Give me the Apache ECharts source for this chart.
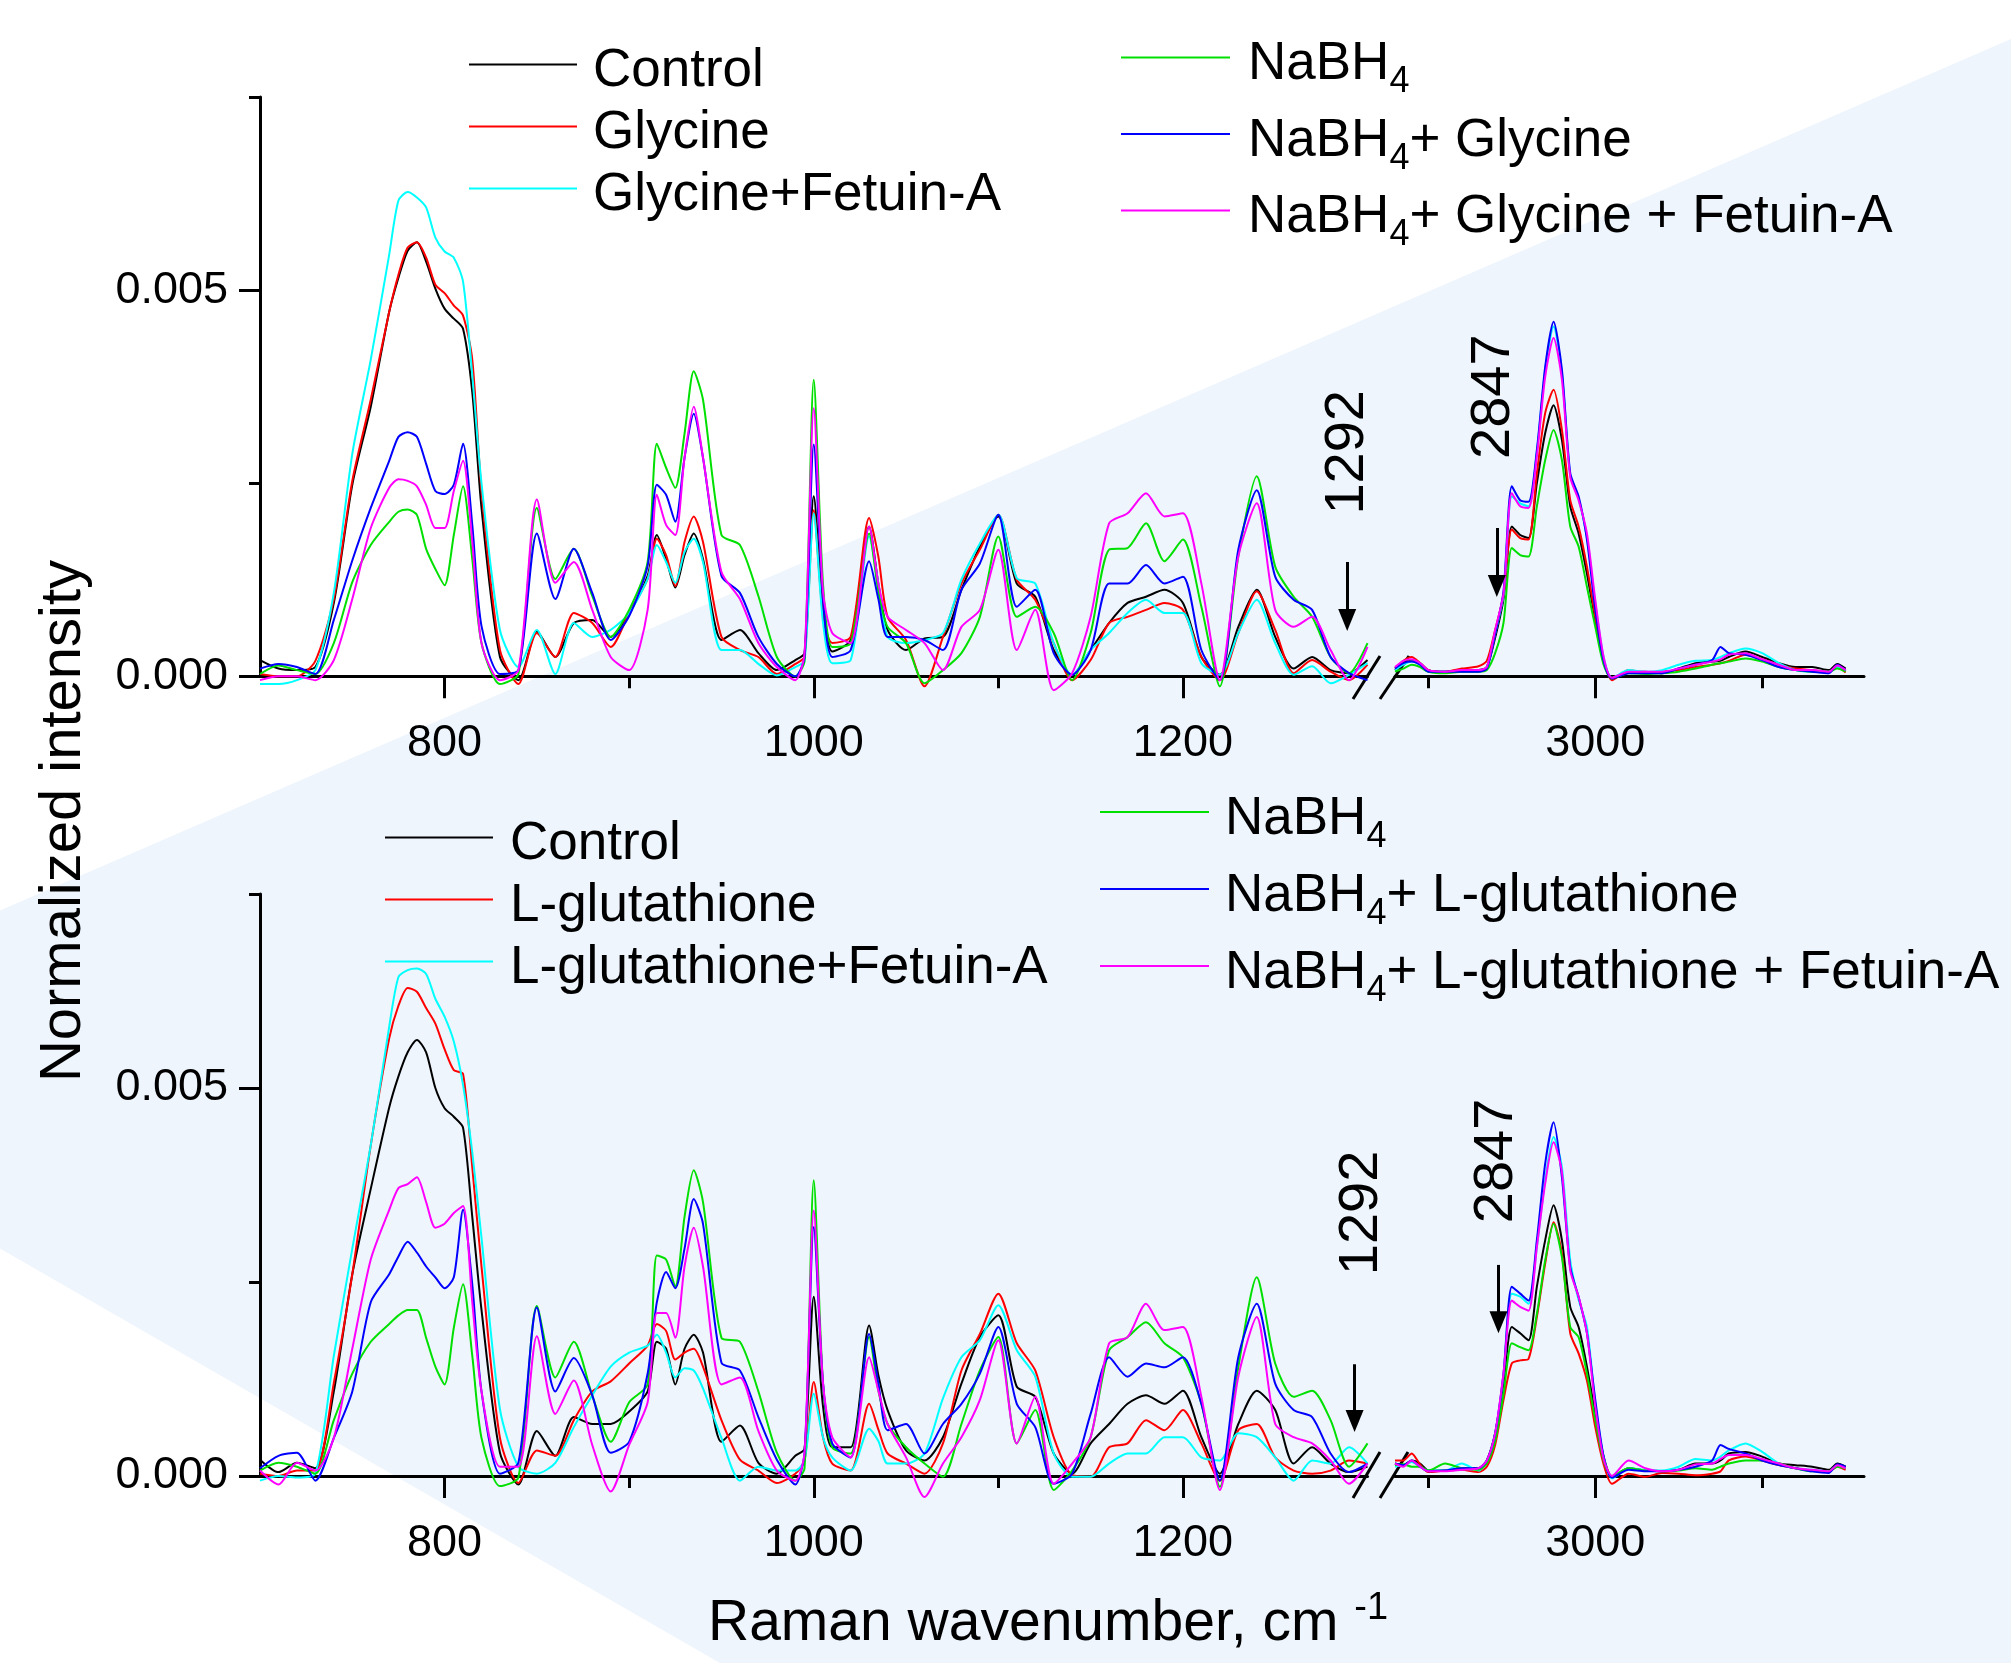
<!DOCTYPE html>
<html>
<head>
<meta charset="utf-8">
<title>Raman spectra</title>
<script src="https://cdn.jsdelivr.net/npm/echarts@6/dist/echarts.min.js"></script>
<style>
  html, body { margin: 0; padding: 0; background: #fff; }
  #chart { width: 2011px; height: 1663px; }
</style>
</head>
<body>
<div id="chart"></div>
<script>
// wavenumbers (cm-1) of the two axis segments
var leftWn = [
  700, 710, 720, 730, 740, 750, 760, 770,
  775, 780, 785, 790, 795, 800, 805, 810, 815, 820,
  830, 840, 850, 860, 870, 880, 890, 900, 910,
  915, 920, 925, 930, 935, 940,
  950, 960, 970, 980, 990,
  995, 1000, 1005,
  1010, 1020, 1030, 1035,
  1040, 1050, 1060, 1070, 1080, 1090, 1100, 1110, 1120, 1130, 1140, 1150, 1160,
  1170, 1180, 1190, 1200, 1210, 1220, 1230, 1240, 1250, 1260, 1270, 1280, 1290, 1300
];
var rightWn = [
  2880, 2885, 2890, 2895, 2900,
  2910, 2920, 2930, 2935, 2940,
  2945, 2950, 2955, 2960, 2965,
  2970, 2975, 2980, 2985, 2990,
  2995, 3000, 3005, 3010, 3020,
  3030, 3040, 3050, 3060, 3070,
  3075, 3080, 3090, 3100, 3110,
  3120, 3130, 3140, 3145, 3150
];

// ---- upper panel: glycine ----
var ctrlTopL = [
  0.00021, 0.0001, 0.00008, 0.00012, 0.00095, 0.00248, 0.00349, 0.00472,
  0.00516, 0.00551, 0.00562, 0.00537, 0.00502, 0.00476, 0.00463, 0.0045, 0.00368, 0.00218,
  0.00025, -0.00005, 0.00058, 0.00025, 0.00069, 0.00073, 0.00051, 0.00082, 0.0013,
  0.00183, 0.00152, 0.00115, 0.00157, 0.00185, 0.00152,
  0.00047, 0.0006, 0.0003, 0.00008, 0.00021,
  0.0003, 0.00233, 0.0009,
  0.00032, 0.00047, 0.00194, 0.0012,
  0.0006, 0.00034, 0.00049, 0.00051, 0.00112, 0.00168, 0.00207, 0.0012, 0.00103, 0.00034, 0.00002, 0.00034, 0.00069,
  0.00095, 0.00103, 0.00112, 0.00095, 0.00025, 0.00002, 0.00064, 0.00112, 0.00051, 0.0001, 0.00025, 0.00008, 0.00004, 0.00021
];
var glyTopL = [
  0.00003, 0, 0, 0.0002, 0.001, 0.00253, 0.00358, 0.00472,
  0.0052, 0.00555, 0.00562, 0.00542, 0.00507, 0.00496, 0.0048, 0.00467, 0.0041, 0.0024,
  0.00034, -0.0001, 0.00056, 0.00025, 0.00082, 0.00069, 0.00038, 0.00082, 0.00126,
  0.00178, 0.00157, 0.00117, 0.00174, 0.00207, 0.00174,
  0.00051, 0.00034, 0.00025, 0.00003, 0.00016,
  0.00025, 0.00215, 0.0008,
  0.00043, 0.00051, 0.00205, 0.00155,
  0.00077, 0.00047, -0.00013, 0.00051, 0.0012, 0.00164, 0.00209, 0.00125, 0.00099, 0.00043, -0.00005, 0.00021, 0.00069,
  0.00077, 0.00086, 0.00095, 0.00086, 0.00025, -0.00005, 0.00056, 0.0011, 0.0006, 0.00004, 0.00021, 0.00006, -0.00005, 0.00015
];
var glyFetTopL = [
  -0.0001, -0.0001, -0.00005, 0.00008, 0.00108, 0.00288, 0.0041, 0.00546,
  0.00616, 0.00627, 0.0062, 0.00607, 0.00568, 0.0055, 0.00542, 0.00511, 0.0039, 0.0025,
  0.0006, 0.00012, 0.0006, 0.00003, 0.00069, 0.00051, 0.0006, 0.00082, 0.00126,
  0.0017, 0.00148, 0.00121, 0.00161, 0.00178, 0.00148,
  0.00034, 0.00034, 0.00016, 0.00001, 0.00012,
  0.0002, 0.00211, 0.0007,
  0.00017, 0.00021, 0.00181, 0.0012,
  0.00051, 0.00043, 0.00047, 0.00056, 0.00125, 0.00172, 0.00209, 0.00127, 0.0012, 0.00043, 0.00002, 0.00034, 0.00056,
  0.00082, 0.00099, 0.00082, 0.00082, 0.00017, 0.00002, 0.00056, 0.00099, 0.00043, 0.00002, 0.00013, -0.00009, 0.00002, 0.00017
];
var nabTopL = [
  0.00003, 0.00014, 0.00008, 0.00003, 0.00043, 0.00122, 0.0017, 0.002,
  0.00213, 0.00216, 0.00209, 0.00165, 0.00139, 0.00118, 0.00183, 0.00246, 0.00152, 0.00043,
  -0.0001, 0.00003, 0.00218, 0.00126, 0.00165, 0.00104, 0.00051, 0.00086, 0.00148,
  0.00301, 0.0027, 0.00244, 0.00314, 0.00395, 0.00358,
  0.00183, 0.0017, 0.00104, 0.00025, 0,
  0.0002, 0.00384, 0.0012,
  0.00038, 0.00043, 0.00185, 0.0011,
  0.00064, 0.00043, -0.00009, 0.00008, 0.0003, 0.00077, 0.00181, 0.00077, 0.0009, 0.00056, -0.00005, 0.00056, 0.00164,
  0.00166, 0.00198, 0.00149, 0.00177, 0.0009, -0.00013, 0.00155, 0.00259, 0.00142, 0.00103, 0.00077, 0.00025, 0.00004, 0.00043
];
var nabGlyTopL = [
  0.0001, 0.00016, 0.00012, 0.00003, 0.00073, 0.0015, 0.00218, 0.00279,
  0.0031, 0.00316, 0.0031, 0.00275, 0.0024, 0.00236, 0.00248, 0.00301, 0.00196, 0.00065,
  0.00003, 0.00008, 0.00185, 0.001, 0.00165, 0.00108, 0.00047, 0.00078, 0.00143,
  0.00248, 0.00235, 0.002, 0.00283, 0.0034, 0.00283,
  0.0013, 0.00108, 0.00051, 0.00016, 0,
  0.00025, 0.003, 0.001,
  0.00025, 0.00034, 0.00149, 0.001,
  0.00051, 0.00051, 0.00047, 0.00034, 0.00112, 0.00146, 0.00209, 0.0009, 0.00112, 0.0003, 0.00002, 0.00034, 0.0012,
  0.0012, 0.00144, 0.0012, 0.00129, 0.00034, -0.00005, 0.00164, 0.00241, 0.00129, 0.00099, 0.00086, 0.00025, 0.00004, -0.00005
];
var nabGlyFetTopL = [
  -0.00005, 0, 0, -0.00005, 0.00021, 0.001, 0.00192, 0.00244,
  0.00255, 0.00253, 0.00246, 0.00222, 0.00192, 0.00192, 0.0024, 0.00279, 0.00174, 0.00043,
  -0.00005, 0.00008, 0.00229, 0.00121, 0.00148, 0.00086, 0.00025, 0.00008, 0.00086,
  0.00235, 0.00196, 0.00183, 0.00283, 0.00349, 0.00283,
  0.00135, 0.001, 0.00043, 0.00012, -0.00005,
  0.0003, 0.00347, 0.0011,
  0.00056, 0.00043, 0.00194, 0.0012,
  0.00077, 0.0006, 0.00043, 0.00008, 0.00064, 0.00086, 0.00164, 0.00034, 0.00086, -0.00018, 0.00004, 0.00077, 0.00198,
  0.00211, 0.00237, 0.00207, 0.00211, 0.0012, -0.00005, 0.00155, 0.00224, 0.00086, 0.00064, 0.00077, 0.00034, -0.00005, 0.00038
];

var ctrlTopR = [
  0.00008, 0.00015, 0.00021, 0.00017, 0.00008,
  0.00006, 0.00008, 0.00008, 0.00012, 0.0005,
  0.001, 0.00194, 0.00183, 0.00179, 0.0025,
  0.00315, 0.00351, 0.00306, 0.0022, 0.00185,
  0.00133, 0.00073, 0.00021, -0.00003, 0.00006,
  0.00006, 0.00004, 0.0001, 0.00017, 0.00019,
  0.0002, 0.00025, 0.00032, 0.00025, 0.00017,
  0.00012, 0.00012, 0.00008, 0.00016, 0.0001
];
var glyTopR = [
  0.0001, 0.0002, 0.00025, 0.00017, 0.00008,
  0.00006, 0.0001, 0.00013, 0.0002, 0.0006,
  0.00105, 0.0019, 0.00179, 0.00177, 0.00263,
  0.00341, 0.00371, 0.00319, 0.00228, 0.00194,
  0.00142, 0.00077, 0.0002, -0.00005, 0.00008,
  0.00004, 0.00006, 0.00008, 0.00012, 0.00015,
  0.00017, 0.0002, 0.00028, 0.00022, 0.00015,
  0.0001, 0.00008, 0.00006, 0.00012, 0.00005
];
var glyFetTopR = [
  0.00008, 0.00015, 0.00019, 0.00015, 0.00006,
  0.00006, 0.00006, 0.00006, 0.00012, 0.00055,
  0.00105, 0.00233, 0.00224, 0.0022, 0.0029,
  0.00397, 0.00453, 0.00393, 0.0026, 0.0023,
  0.0018, 0.00095, 0.00025, -0.00002, 0.00008,
  0.00006, 0.00008, 0.00015, 0.0002, 0.00021,
  0.00025, 0.0003, 0.00036, 0.0003, 0.00017,
  0.00008, 0.00006, 0.00006, 0.00012, 0.00008
];
var nabTopR = [
  0.00006, 0.0001, 0.00015, 0.00012, 0.00006,
  0.00004, 0.00006, 0.00006, 0.00008, 0.0003,
  0.00069, 0.00166, 0.00157, 0.00155, 0.0022,
  0.0028, 0.00319, 0.0028, 0.00194, 0.00168,
  0.00116, 0.00064, 0.00015, -0.00003, 0.00004,
  0.00003, 0.00004, 0.00006, 0.0001, 0.00015,
  0.00017, 0.00019, 0.00023, 0.00019, 0.00012,
  0.00008, 0.00006, 0.00006, 0.0001, 0.00006
];
var nabGlyTopR = [
  0.0001, 0.00017, 0.00019, 0.00015, 0.00006,
  0.00006, 0.00006, 0.00006, 0.0001, 0.00055,
  0.0011, 0.00246, 0.00228, 0.00226, 0.00293,
  0.00401, 0.00459, 0.00397, 0.00263, 0.00233,
  0.00177, 0.00086, 0.0002, -0.00003, 0.00004,
  0.00004, 0.00004, 0.0001, 0.00015, 0.00021,
  0.00038, 0.0003, 0.00028, 0.00021, 0.00012,
  0.00008, 0.00006, 0.00004, 0.00015, 0.00008
];
var nabGlyFetTopR = [
  0.00012, 0.0002, 0.00022, 0.00017, 0.00008,
  0.00006, 0.00008, 0.00008, 0.00012, 0.0006,
  0.00107, 0.00237, 0.0022, 0.00218, 0.00285,
  0.00388, 0.00438, 0.00384, 0.00258, 0.00228,
  0.00185, 0.00099, 0.00025, -0.00002, 0.00006,
  0.00006, 0.00006, 0.0001, 0.00015, 0.00019,
  0.00022, 0.00028, 0.0003, 0.00022, 0.00015,
  0.00008, 0.00008, 0.00006, 0.00014, 0.00008
];

// ---- lower panel: L-glutathione ----
var ctrlBotL = [
  0.00021, 0.00005, 0.00017, 0.0001, 0.00109, 0.0026, 0.0037, 0.00475,
  0.00515, 0.00546, 0.00562, 0.00546, 0.005, 0.00474, 0.00463, 0.00449, 0.00334, 0.00214,
  0.0003, -0.00011, 0.00058, 0.00026, 0.00076, 0.00067, 0.00067, 0.00083, 0.00109,
  0.00173, 0.00164, 0.00118, 0.00164, 0.00182, 0.00159,
  0.00044, 0.00065, 0.00017, 0.00003, 0.00026,
  0.00035, 0.00231, 0.0009,
  0.00037, 0.00037, 0.00194, 0.0013,
  0.00085, 0.00033, 0.0002, 0.0005, 0.00119, 0.00179, 0.00207, 0.00115, 0.00102, 0.00029, 0.00003, 0.00042, 0.00067,
  0.00093, 0.00104, 0.00093, 0.0011, 0.0005, 0.00003, 0.00067, 0.0011, 0.00085, 0.00016, 0.00037, 0.00016, 0.00005, 0.00012
];
var gshBotL = [
  0.00003, 0, 0.00007, 0.00007, 0.0012, 0.0026, 0.00426, 0.00564,
  0.00606, 0.00629, 0.00624, 0.00603, 0.00583, 0.0055, 0.00523, 0.00518, 0.00398, 0.0027,
  0.00049, -0.00009, 0.00033, 0.00026, 0.00072, 0.00109, 0.00122, 0.00145, 0.00168,
  0.00196, 0.00187, 0.0015, 0.00159, 0.00164, 0.00141,
  0.00072, 0.00021, 0.00007, -0.00009, 0.00003,
  0.0002, 0.00121, 0.0005,
  0.00016, 0.00007, 0.00093, 0.0006,
  0.00029, 0.00016, 0.00003, 0.00042, 0.00136, 0.00183, 0.00235, 0.00171, 0.00136, 0.0005, 0.00001, -0.00001, 0.00037,
  0.00042, 0.00072, 0.00059, 0.00085, 0.00042, -0.00006, 0.00059, 0.00067, 0.00024, 0.00007, 0.00003, 0.00007, 0.0002, 0.00016
];
var gshFetBotL = [
  -0.00006, 0, -0.00002, 0.00003, 0.00155, 0.00293, 0.00426, 0.00579,
  0.00643, 0.00652, 0.00654, 0.00647, 0.00615, 0.00592, 0.0056, 0.00504, 0.00417, 0.00307,
  0.00086, 0.00012, 0.00003, 0.00017, 0.00063, 0.00104, 0.00141, 0.00159, 0.00168,
  0.00182, 0.00159, 0.00127, 0.00139, 0.00136, 0.00113,
  0.00049, -0.00006, 0.00012, 0.00007, 0.00007,
  0.0002, 0.00106, 0.0005,
  0.00024, 0.00007, 0.00061, 0.00045,
  0.00016, 0.00016, 0.00029, 0.001, 0.00153, 0.00175, 0.0022, 0.00162, 0.00128, 0.00029, -0.00001, -0.00001, 0.00016,
  0.00029, 0.00029, 0.0005, 0.0005, 0.00024, 0.0002, 0.00055, 0.0005, 0.00024, -0.00006, 0.0002, 0.00016, 0.00037, 0.00016
];
var nabBotL = [
  0.00007, 0.00017, 0.00012, 0.00003, 0.00072, 0.00132, 0.00173, 0.00196,
  0.00207, 0.00214, 0.00214, 0.00178, 0.00141, 0.00118, 0.00191, 0.00247, 0.00155, 0.00049,
  -0.00013, -0.00002, 0.00219, 0.00127, 0.00173, 0.00104, 0.00044, 0.00095, 0.00118,
  0.00284, 0.00279, 0.00244, 0.00334, 0.00394, 0.00353,
  0.00178, 0.00173, 0.00109, 0.0003, -0.00006,
  0.0001, 0.00381, 0.0012,
  0.00037, 0.00029, 0.00179, 0.0011,
  0.00067, 0.00037, 0.00016, -0.00001, 0.00067, 0.00136, 0.00179, 0.00042, 0.00085, -0.00018, 0.00007, 0.0005, 0.00162,
  0.00179, 0.00198, 0.00171, 0.00153, 0.00093, -0.00014, 0.0014, 0.00256, 0.00145, 0.00102, 0.0011, 0.00072, 0.00012, 0.00042
];
var nabGshBotL = [
  0.0001, 0.00026, 0.0003, -0.00006, 0.00049, 0.00109, 0.00224, 0.0026,
  0.00283, 0.00302, 0.00288, 0.0027, 0.00256, 0.00242, 0.00256, 0.00343, 0.00247, 0.00109,
  0.00003, 0.00017, 0.00217, 0.00109, 0.00152, 0.00104, 0.0003, 0.00044, 0.00132,
  0.00224, 0.00263, 0.00242, 0.00293, 0.00357, 0.00325,
  0.00146, 0.00136, 0.00076, 0.00021, -0.00011,
  0.0003, 0.00321, 0.0012,
  0.00042, 0.00024, 0.00183, 0.0012,
  0.00059, 0.00067, 0.00029, 0.00067, 0.00093, 0.00132, 0.00192, 0.00093, 0.00063, -0.0001, 0.00003, 0.0008, 0.00153,
  0.00128, 0.00145, 0.0014, 0.00153, 0.00093, -0.00006, 0.00153, 0.00222, 0.00119, 0.00085, 0.00076, 0.00029, 0.00005, 0.00016
];
var nabGshFetBotL = [
  0.00007, -0.00011, 0.00017, 0.00007, 0.00049, 0.00164, 0.00279, 0.00343,
  0.00371, 0.00376, 0.00385, 0.00353, 0.0032, 0.00325, 0.00339, 0.00348, 0.00224, 0.00109,
  0.00012, 0.00012, 0.0018, 0.0008, 0.00123, 0.0004, -0.0002, 0.0004, 0.00095,
  0.0021, 0.0021, 0.00178, 0.0027, 0.0032, 0.0027,
  0.00118, 0.00127, 0.00058, 0.00007, -0.00006,
  0.0003, 0.00342, 0.0012,
  0.0005, 0.00024, 0.00153, 0.0011,
  0.00067, 0.00024, -0.00027, 0.00016, 0.0005, 0.00098, 0.00175, 0.00042, 0.00102, -0.0001, 0.00016, 0.0005, 0.00171,
  0.00179, 0.00222, 0.00188, 0.00192, 0.00102, -0.00018, 0.00128, 0.00205, 0.00067, 0.0005, 0.00042, 0.0002, -0.0001, 0.00016
];

var ctrlBotR = [
  0.00016, 0.00014, 0.0002, 0.00016, 0.00007,
  0.00007, 0.0001, 0.0001, 0.0002, 0.00055,
  0.0012, 0.00192, 0.00184, 0.00175, 0.00244,
  0.00304, 0.00349, 0.00304, 0.00218, 0.00192,
  0.00141, 0.0008, 0.00025, -0.00001, 0.0001,
  0.00007, 0.00006, 0.00008, 0.00016, 0.00016,
  0.0002, 0.00029, 0.00031, 0.00025, 0.00016,
  0.00014, 0.00012, 0.00008, 0.00016, 0.00012
];
var gshBotR = [
  0.0002, 0.0002, 0.00029, 0.00015, 0.00005,
  0.00007, 0.00008, 0.00005, 0.00012, 0.0004,
  0.00098, 0.00145, 0.00149, 0.00151, 0.00205,
  0.00274, 0.00327, 0.00287, 0.00184, 0.00158,
  0.00123, 0.00063, 0.00015, -0.0001, 0.00003,
  -0.00001, 0.00004, 0.00003, 0.00001, 0.00003,
  0.00006, 0.0002, 0.00025, 0.0002, 0.00014,
  0.0001, 0.00007, 0.00006, 0.00012, 0.00008
];
var gshFetBotR = [
  0.00012, 0.00014, 0.00018, 0.00012, 0.00007,
  0.00007, 0.00016, 0.00007, 0.00018, 0.00055,
  0.0013, 0.00235, 0.00231, 0.00222, 0.00295,
  0.00382, 0.00437, 0.00398, 0.00278, 0.00227,
  0.00192, 0.00094, 0.00025, -0.00003, 0.0001,
  0.00008, 0.00007, 0.00012, 0.00022, 0.0002,
  0.00025, 0.00033, 0.00042, 0.00031, 0.00016,
  0.0001, 0.00008, 0.00006, 0.00014, 0.0001
];
var nabBotR = [
  0.00014, 0.00015, 0.00012, 0.00012, 0.00007,
  0.00016, 0.0001, 0.00008, 0.00016, 0.00045,
  0.00105, 0.00171, 0.00166, 0.00162, 0.00209,
  0.00278, 0.00325, 0.00282, 0.00192, 0.00179,
  0.00132, 0.00072, 0.0002, 0, 0.0001,
  0.00007, 0.00006, 0.00007, 0.0001, 0.00008,
  0.00012, 0.00016, 0.0002, 0.0002, 0.00016,
  0.0001, 0.00006, 0.00006, 0.00012, 0.0001
];
var nabGshBotR = [
  0.00016, 0.00014, 0.0002, 0.00012, 0.00006,
  0.00007, 0.0001, 0.0001, 0.0002, 0.00055,
  0.00132, 0.00244, 0.00235, 0.00226, 0.00304,
  0.00403, 0.00456, 0.00385, 0.00269, 0.00231,
  0.00184, 0.00098, 0.00025, -0.00002, 0.00008,
  0.00006, 0.00006, 0.00008, 0.00012, 0.0002,
  0.0004, 0.00035, 0.00029, 0.0002, 0.00014,
  0.0001, 0.00006, 0.00004, 0.00015, 0.00012
];
var nabGshFetBotR = [
  0.00016, 0.00012, 0.0002, 0.00012, 0.00006,
  0.00006, 0.00008, 0.0001, 0.0002, 0.00055,
  0.00132, 0.00226, 0.00218, 0.00213, 0.00295,
  0.00377, 0.0043, 0.00392, 0.00265, 0.00231,
  0.00184, 0.00089, 0.00022, 0, 0.0002,
  0.0001, 0.00006, 0.00008, 0.00015, 0.00016,
  0.00022, 0.00027, 0.00027, 0.00022, 0.00016,
  0.0001, 0.00008, 0.00006, 0.00014, 0.0001
];

// tick positions
var leftMajor = [800, 1000, 1200];
var leftMinor = [900, 1100];
var rightMajor = [3000];
var rightMinor = [2900, 3100];
var yMajor = [0, 0.005];
var yMinor = [0.0025, 0.0075];

var namesTop = ['Control', 'Glycine', 'Glycine+Fetuin-A', 'NaBH4', 'NaBH4+ Glycine', 'NaBH4+ Glycine + Fetuin-A'];
var namesBot = ['Control', 'L-glutathione', 'L-glutathione+Fetuin-A', 'NaBH4', 'NaBH4+ L-glutathione', 'NaBH4+ L-glutathione + Fetuin-A'];
var colors = ['#000000', '#ff0000', '#00ffff', '#00e000', '#0000ff', '#ff00ff'];

var FONT = 'Liberation Sans';
var BLACK = '#000';

function pairs(xs, ys) {
  return xs.map(function (x, i) { return [x, ys[i]]; });
}

function mainX(grid, min, max, majors) {
  return {
    type: 'value', gridIndex: grid, min: min, max: max, position: 'bottom',
    axisLine: { show: true, onZero: false, lineStyle: { color: BLACK, width: 3 } },
    axisTick: { show: true, customValues: majors, length: 22, lineStyle: { color: BLACK, width: 3 } },
    axisLabel: {
      show: true, customValues: majors, margin: 45, fontSize: 45, fontFamily: FONT, color: BLACK,
      formatter: function (v) { return String(v); }
    },
    splitLine: { show: false }
  };
}
function minorX(grid, min, max, minors) {
  return {
    type: 'value', gridIndex: grid, min: min, max: max, position: 'bottom',
    axisLine: { show: false },
    axisTick: { show: true, customValues: minors, length: 12, lineStyle: { color: BLACK, width: 3 } },
    axisLabel: { show: false },
    splitLine: { show: false }
  };
}
function mainY(grid) {
  return {
    type: 'value', gridIndex: grid, min: 0, max: 0.0075, position: 'left',
    axisLine: { show: true, onZero: false, lineStyle: { color: BLACK, width: 3 } },
    axisTick: { show: true, customValues: yMajor, length: 21, lineStyle: { color: BLACK, width: 3 } },
    axisLabel: {
      show: true, customValues: yMajor, margin: 32, fontSize: 45, fontFamily: FONT, color: BLACK,
      formatter: function (v) { return v.toFixed(3); }
    },
    splitLine: { show: false }
  };
}
function minorY(grid) {
  return {
    type: 'value', gridIndex: grid, min: 0, max: 0.0075, position: 'left',
    axisLine: { show: false },
    axisTick: { show: true, customValues: yMinor, length: 11, lineStyle: { color: BLACK, width: 3 } },
    axisLabel: { show: false },
    splitLine: { show: false }
  };
}
function hiddenY(grid) {
  return { type: 'value', gridIndex: grid, min: 0, max: 0.0075, show: false };
}

function arrow(x, yFrom, yTo) {
  return {
    silent: true, animation: false,
    symbol: ['none', 'triangle'], symbolSize: [18, 22],
    lineStyle: { color: BLACK, width: 3, type: 'solid' },
    itemStyle: { color: BLACK },
    label: { show: false },
    data: [[{ coord: [x, yFrom] }, { coord: [x, yTo] }]]
  };
}
function note(text, x, y) {
  return {
    silent: true, animation: false,
    symbol: 'circle', symbolSize: 1,
    itemStyle: { color: 'rgba(0,0,0,0)' },
    label: {
      show: true, position: 'inside', formatter: text, rotate: 90,
      fontSize: 56, fontFamily: FONT, color: BLACK
    },
    data: [{ coord: [x, y] }]
  };
}

function line(name, color, xs, ys, xi, yi, extra) {
  var s = {
    name: name, type: 'line', xAxisIndex: xi, yAxisIndex: yi,
    data: pairs(xs, ys), color: color, smooth: 0.25,
    symbol: 'none', showSymbol: false, clip: false, silent: true,
    itemStyle: { color: color },
    lineStyle: { color: color, width: 2 }
  };
  if (extra) {
    for (var k in extra) s[k] = extra[k];
  }
  return s;
}

var topL = [ctrlTopL, glyTopL, glyFetTopL, nabTopL, nabGlyTopL, nabGlyFetTopL];
var topR = [ctrlTopR, glyTopR, glyFetTopR, nabTopR, nabGlyTopR, nabGlyFetTopR];
var botL = [ctrlBotL, gshBotL, gshFetBotL, nabBotL, nabGshBotL, nabGshFetBotL];
var botR = [ctrlBotR, gshBotR, gshFetBotR, nabBotR, nabGshBotR, nabGshFetBotR];

var series = [];
for (var i = 0; i < 6; i++) {
  series.push(line(namesTop[i], colors[i], leftWn, topL[i], 0, 0, i === 0 ? {
    markLine: arrow(1289, 0.00148, 0.00073), markPoint: note('1292', 1289, 0.0029)
  } : null));
  series.push(line(namesTop[i], colors[i], rightWn, topR[i], 2, 2, i === 0 ? {
    markLine: arrow(2941, 0.00192, 0.00117), markPoint: note('2847', 2939, 0.00362)
  } : null));
  series.push(line(namesBot[i], colors[i], leftWn, botL[i], 4, 3, i === 0 ? {
    markLine: arrow(1293, 0.00144, 0.00071), markPoint: note('1292', 1297, 0.00339)
  } : null));
  series.push(line(namesBot[i], colors[i], rightWn, botR[i], 6, 5, i === 0 ? {
    markLine: arrow(2942, 0.00272, 0.00198), markPoint: note('2847', 2941, 0.00406)
  } : null));
}

function subName(name) {
  return name.replace('NaBH4', 'NaBH{s|4}');
}
function legendBox(names, left, top, lineHeight, padLeft, itemWidth) {
  return {
    data: names, orient: 'vertical', left: left, top: top,
    padding: 0, itemGap: 0, itemWidth: itemWidth, itemHeight: 2,
    icon: 'rect', selectedMode: false, formatter: subName,
    textStyle: {
      fontSize: 53, fontFamily: FONT, color: BLACK, lineHeight: lineHeight,
      padding: [14, 0, 0, padLeft],
      rich: {
        s: { fontSize: 36, fontFamily: FONT, color: BLACK, lineHeight: lineHeight, padding: [36, 0, 0, 0] }
      }
    }
  };
}

var chart = echarts.init(document.getElementById('chart'), null, { renderer: 'canvas' });
chart.setOption({
  backgroundColor: '#ffffff',
  animation: false,
  grid: [
    { left: 260, top: 97, width: 1107.5, height: 579.3 },
    { left: 1395, top: 97, width: 469, height: 579.3 },
    { left: 260, top: 894, width: 1107.5, height: 582 },
    { left: 1395, top: 894, width: 469, height: 582 }
  ],
  xAxis: [
    mainX(0, 700, 1300, leftMajor), minorX(0, 700, 1300, leftMinor),
    mainX(1, 2880, 3161, rightMajor), minorX(1, 2880, 3161, rightMinor),
    mainX(2, 700, 1300, leftMajor), minorX(2, 700, 1300, leftMinor),
    mainX(3, 2880, 3161, rightMajor), minorX(3, 2880, 3161, rightMinor)
  ],
  yAxis: [
    mainY(0), minorY(0), hiddenY(1),
    mainY(2), minorY(2), hiddenY(3)
  ],
  legend: [
    legendBox(namesTop.slice(0, 3), 469, 36, 43, 11, 108),
    legendBox(namesTop.slice(3), 1121, 24, 53, 13, 109),
    legendBox(namesBot.slice(0, 3), 385, 809, 43, 12, 108),
    legendBox(namesBot.slice(3), 1100, 778, 54, 11, 109)
  ],
  graphic: [
    {
      type: 'polygon', z: -10, silent: true,
      shape: { points: [[0, 910.5], [2011, 39], [2011, 1663], [720, 1663], [0, 1248.5]] },
      style: { fill: '#eef5fd' }
    },
    // axis break marks
    { type: 'line', silent: true, shape: { x1: 1353, y1: 699, x2: 1380, y2: 656 }, style: { stroke: BLACK, lineWidth: 3 } },
    { type: 'line', silent: true, shape: { x1: 1380, y1: 699, x2: 1409, y2: 656 }, style: { stroke: BLACK, lineWidth: 3 } },
    { type: 'line', silent: true, shape: { x1: 1353, y1: 1498, x2: 1380, y2: 1452 }, style: { stroke: BLACK, lineWidth: 3 } },
    { type: 'line', silent: true, shape: { x1: 1380, y1: 1498, x2: 1408, y2: 1452 }, style: { stroke: BLACK, lineWidth: 3 } },
    {
      type: 'text', x: 64, y: 821, rotation: Math.PI / 2, silent: true,
      style: {
        text: 'Normalized intensity', fontSize: 58, fontFamily: FONT, fill: BLACK,
        align: 'center', verticalAlign: 'middle'
      }
    },
    {
      type: 'text', x: 708, y: 1624, silent: true,
      style: {
        text: 'Raman wavenumber, cm {sup|-1}', fontSize: 57, fontFamily: FONT, fill: BLACK,
        lineHeight: 60, align: 'left', verticalAlign: 'middle',
        rich: {
          sup: { fontSize: 38, fontFamily: FONT, fill: BLACK, lineHeight: 60, padding: [0, 0, 30, 0] }
        }
      }
    }
  ],
  series: series
});
</script>
</body>
</html>
